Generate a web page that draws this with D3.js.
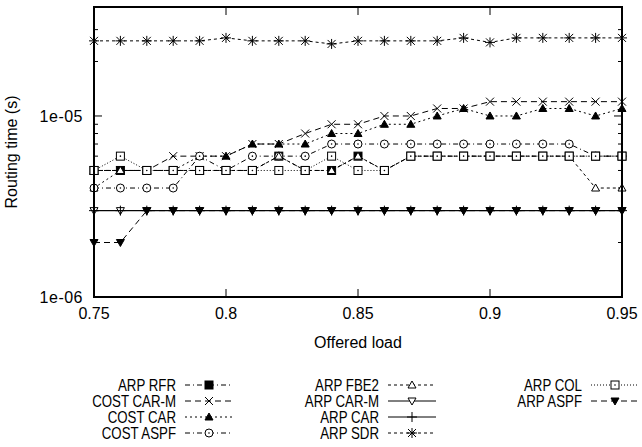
<!DOCTYPE html>
<html>
<head>
<meta charset="utf-8">
<script src="https://cdn.jsdelivr.net/npm/d3@7"></script>
<style>
  body { margin: 0; background: #fff; }
  svg { display: block; font-family: "Liberation Sans", Arial, sans-serif; }
  text { fill: #000; }
</style>
</head>
<body>
<svg id="chart" width="642" height="447"></svg>
<script>
// offered load, one point per 0.01
var LOAD = [0.75, 0.76, 0.77, 0.78, 0.79, 0.80, 0.81, 0.82, 0.83, 0.84, 0.85,
            0.86, 0.87, 0.88, 0.89, 0.90, 0.91, 0.92, 0.93, 0.94, 0.95];

// routing time (s)
var ARP_RFR     = [5e-6, 5e-6, 5e-6, 5e-6, 5e-6, 5e-6, 5e-6, 6e-6, 5e-6, 5e-6, 6e-6,
                   5e-6, 6e-6, 6e-6, 6e-6, 6e-6, 6e-6, 6e-6, 6e-6, 6e-6, 6e-6];
var COST_CAR_M  = [5e-6, 5e-6, 5e-6, 6e-6, 6e-6, 6e-6, 7e-6, 7e-6, 8e-6, 9e-6, 9e-6,
                   1e-5, 1e-5, 1.1e-5, 1.1e-5, 1.2e-5, 1.2e-5, 1.2e-5, 1.2e-5, 1.2e-5, 1.2e-5];
var COST_CAR    = [4e-6, 5e-6, 5e-6, 5e-6, 6e-6, 6e-6, 7e-6, 7e-6, 7e-6, 8e-6, 8e-6,
                   9e-6, 9e-6, 1e-5, 1.1e-5, 1e-5, 1e-5, 1.1e-5, 1.1e-5, 1e-5, 1.1e-5];
var COST_ASPF   = [4e-6, 4e-6, 4e-6, 4e-6, 6e-6, 5e-6, 6e-6, 6e-6, 6e-6, 7e-6, 7e-6,
                   7e-6, 7e-6, 7e-6, 7e-6, 7e-6, 7e-6, 7e-6, 7e-6, 6e-6, 6e-6];
var ARP_FBE2    = [5e-6, 5e-6, 5e-6, 5e-6, 5e-6, 5e-6, 5e-6, 6e-6, 5e-6, 5e-6, 6e-6,
                   5e-6, 6e-6, 6e-6, 6e-6, 6e-6, 6e-6, 6e-6, 6e-6, 4e-6, 4e-6];
var ARP_CAR_M   = [3e-6, 3e-6, 3e-6, 3e-6, 3e-6, 3e-6, 3e-6, 3e-6, 3e-6, 3e-6, 3e-6,
                   3e-6, 3e-6, 3e-6, 3e-6, 3e-6, 3e-6, 3e-6, 3e-6, 3e-6, 3e-6];
var ARP_CAR     = [3e-6, 3e-6, 3e-6, 3e-6, 3e-6, 3e-6, 3e-6, 3e-6, 3e-6, 3e-6, 3e-6,
                   3e-6, 3e-6, 3e-6, 3e-6, 3e-6, 3e-6, 3e-6, 3e-6, 3e-6, 3e-6];
var ARP_SDR     = [2.6e-5, 2.6e-5, 2.6e-5, 2.6e-5, 2.6e-5, 2.7e-5, 2.6e-5, 2.6e-5, 2.6e-5, 2.5e-5, 2.6e-5,
                   2.6e-5, 2.6e-5, 2.6e-5, 2.7e-5, 2.55e-5, 2.7e-5, 2.7e-5, 2.7e-5, 2.7e-5, 2.7e-5];
var ARP_COL     = [5e-6, 6e-6, 5e-6, 5e-6, 5e-6, 5e-6, 5e-6, 5e-6, 5e-6, 6e-6, 5e-6,
                   5e-6, 6e-6, 6e-6, 6e-6, 6e-6, 6e-6, 6e-6, 6e-6, 6e-6, 6e-6];
var ARP_ASPF    = [2e-6, 2e-6, 3e-6, 3e-6, 3e-6, 3e-6, 3e-6, 3e-6, 3e-6, 3e-6, 3e-6,
                   3e-6, 3e-6, 3e-6, 3e-6, 3e-6, 3e-6, 3e-6, 3e-6, 3e-6, 3e-6];

var NAMES  = ['ARP RFR', 'COST CAR-M', 'COST CAR', 'COST ASPF', 'ARP FBE2',
              'ARP CAR-M', 'ARP CAR', 'ARP SDR', 'ARP COL', 'ARP ASPF'];
var VALUES = [ARP_RFR, COST_CAR_M, COST_CAR, COST_ASPF, ARP_FBE2,
              ARP_CAR_M, ARP_CAR, ARP_SDR, ARP_COL, ARP_ASPF];

var X_TICKS = [0.75, 0.8, 0.85, 0.9, 0.95];
var Y_TICKS = [1e-6, 1e-5];
var Y_MINOR = [2e-6, 3e-6, 4e-6, 5e-6, 6e-6, 7e-6, 8e-6, 9e-6, 2e-5, 3e-5];

// line + point style per series (gnuplot look)
var DASH   = ['5,3,1,3', '6,4', '2,3', '5,3,1,3', '3,3', null, null, '3,3', '1,2', '6,4'];
var MARKER = ['squareFill', 'cross', 'triFill', 'circleDot', 'tri',
              'triDown', 'plus', 'star', 'squareDot', 'triDownFill'];

var FONT = 16, KEY_FONT = 16;
var svg = d3.select('#chart');
var PL = 94, PR = 622, PT = 7, PB = 297;  // plot box (window.top is reserved, so no 'top')

var x = d3.scaleLinear().domain([0.75, 0.95]).range([PL, PR]);
var y = d3.scaleLog().domain([1e-6, 4e-5]).range([PB, PT]);

function drawMarker(g, type, cx, cy) {
	var s = 4;
	if (type == 'squareFill' || type == 'squareDot') {
		g.append('rect').attr('x', cx - s).attr('y', cy - s).attr('width', 2 * s).attr('height', 2 * s)
			.attr('fill', type == 'squareFill' ? '#000' : '#fff').attr('stroke', '#000').attr('stroke-width', 1);
		if (type == 'squareDot') g.append('circle').attr('cx', cx).attr('cy', cy).attr('r', 0.8).attr('fill', '#000');
	} else if (type == 'circleDot') {
		g.append('circle').attr('cx', cx).attr('cy', cy).attr('r', s).attr('fill', '#fff').attr('stroke', '#000');
		g.append('circle').attr('cx', cx).attr('cy', cy).attr('r', 0.8).attr('fill', '#000');
	} else if (type == 'cross') {
		g.append('path').attr('d', 'M' + (cx - s) + ',' + (cy - s) + 'L' + (cx + s) + ',' + (cy + s) +
			'M' + (cx - s) + ',' + (cy + s) + 'L' + (cx + s) + ',' + (cy - s)).attr('stroke', '#000');
	} else if (type == 'plus') {
		g.append('path').attr('d', 'M' + (cx - s - 1) + ',' + cy + 'L' + (cx + s + 1) + ',' + cy +
			'M' + cx + ',' + (cy - s - 1) + 'L' + cx + ',' + (cy + s + 1)).attr('stroke', '#000');
	} else if (type == 'star') {
		g.append('path').attr('d', 'M' + (cx - s) + ',' + (cy - s) + 'L' + (cx + s) + ',' + (cy + s) +
			'M' + (cx - s) + ',' + (cy + s) + 'L' + (cx + s) + ',' + (cy - s) +
			'M' + (cx - s - 1) + ',' + cy + 'L' + (cx + s + 1) + ',' + cy +
			'M' + cx + ',' + (cy - s - 1) + 'L' + cx + ',' + (cy + s + 1)).attr('stroke', '#000');
	} else {
		var down = (type == 'triDown' || type == 'triDownFill');
		var fill = (type == 'triFill' || type == 'triDownFill') ? '#000' : '#fff';
		var d = down
			? 'M' + (cx - s) + ',' + (cy - s + 1) + 'L' + (cx + s) + ',' + (cy - s + 1) + 'L' + cx + ',' + (cy + s) + 'Z'
			: 'M' + (cx - s) + ',' + (cy + s - 1) + 'L' + (cx + s) + ',' + (cy + s - 1) + 'L' + cx + ',' + (cy - s) + 'Z';
		g.append('path').attr('d', d).attr('fill', fill).attr('stroke', '#000');
	}
}

// ticks: left/right and bottom/top mirrored, pointing inward
var ticks = svg.append('g').attr('stroke', '#000').attr('stroke-width', 1);
Y_TICKS.forEach(function(v) {
	ticks.append('line').attr('x1', PL).attr('x2', PL + 8).attr('y1', y(v)).attr('y2', y(v));
	ticks.append('line').attr('x1', PR).attr('x2', PR - 8).attr('y1', y(v)).attr('y2', y(v));
});
Y_MINOR.forEach(function(v) {
	ticks.append('line').attr('x1', PL).attr('x2', PL + 4).attr('y1', y(v)).attr('y2', y(v));
	ticks.append('line').attr('x1', PR).attr('x2', PR - 4).attr('y1', y(v)).attr('y2', y(v));
});
X_TICKS.forEach(function(v) {
	ticks.append('line').attr('x1', x(v)).attr('x2', x(v)).attr('y1', PB).attr('y2', PB - 8);
	ticks.append('line').attr('x1', x(v)).attr('x2', x(v)).attr('y1', PT).attr('y2', PT + 8);
});

// series
var line = d3.line().x(function(d) { return x(d[0]); }).y(function(d) { return y(d[1]); });
for (var i = 0; i < VALUES.length; i++) {
	var pts = LOAD.map(function(l, j) { return [l, VALUES[i][j]]; });
	var g = svg.append('g').attr('class', 'series');
	g.append('path').attr('d', line(pts)).attr('fill', 'none').attr('stroke', '#000')
		.attr('stroke-width', 1).attr('stroke-dasharray', DASH[i]);
	pts.forEach(function(p) { drawMarker(g, MARKER[i], x(p[0]), y(p[1])); });
}

// frame
svg.append('rect').attr('x', PL).attr('y', PT).attr('width', PR - PL).attr('height', PB - PT)
	.attr('fill', 'none').attr('stroke', '#000').attr('stroke-width', 2);

// tick labels
X_TICKS.forEach(function(v) {
	svg.append('text').attr('x', x(v)).attr('y', PB + 22).attr('text-anchor', 'middle')
		.attr('font-size', FONT).text(+v.toFixed(2));
});
Y_TICKS.forEach(function(v) {
	svg.append('text').attr('x', PL - 11).attr('y', y(v) + 6).attr('text-anchor', 'end')
		.attr('font-size', FONT).attr('letter-spacing', 0.5).text(v == 1e-6 ? '1e-06' : '1e-05');
});

svg.append('text').attr('x', (PL + PR) / 2).attr('y', 348).attr('text-anchor', 'middle')
	.attr('font-size', FONT).text('Offered load');
svg.append('text').attr('transform', 'translate(17,' + ((PT + PB) / 2) + ') rotate(-90)')
	.attr('text-anchor', 'middle').attr('font-size', FONT).text('Routing time (s)');

// key: three columns, filled top to bottom; key text is a condensed face in the original
var ROWS = 4;
var key = svg.append('g').attr('class', 'key');
for (var k = 0; k < NAMES.length; k++) {
	var col = Math.floor(k / ROWS), row = k % ROWS;
	var tx = 176 + col * 203, ty = 385 + row * 16;
	var lg = key.append('g');
	lg.append('text').attr('transform', 'translate(' + tx + ',' + (ty + 6) + ') scale(0.83,1)')
		.attr('text-anchor', 'end').attr('font-size', KEY_FONT).text(NAMES[k]);
	lg.append('line').attr('x1', tx + 9).attr('x2', tx + 57).attr('y1', ty).attr('y2', ty)
		.attr('stroke', '#000').attr('stroke-dasharray', DASH[k]);
	drawMarker(lg, MARKER[k], tx + 33, ty);
}
</script>
</body>
</html>
